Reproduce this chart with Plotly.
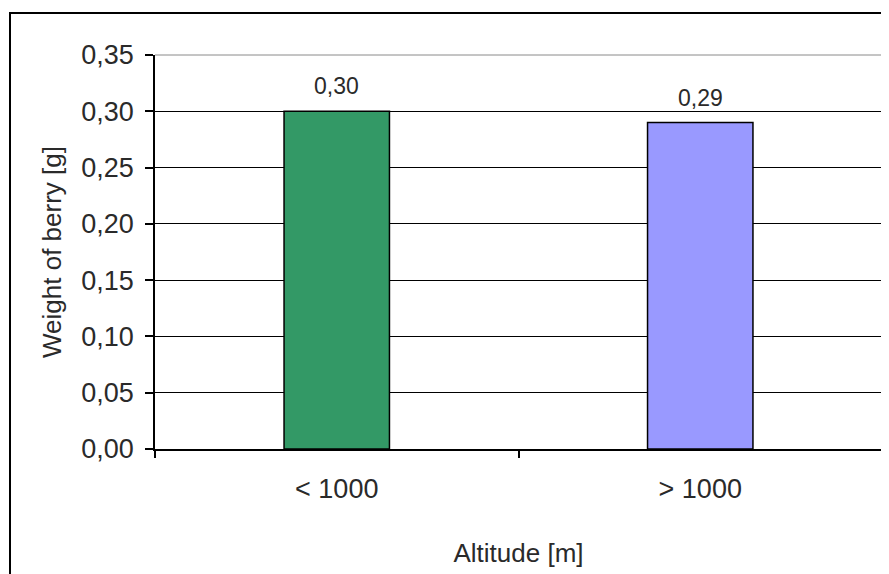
import plotly.graph_objects as go

categories = ["< 1000", "> 1000"]
weights = [0.30, 0.29]
bar_colors = ["#339966", "#9999FF"]
y_tickvals = [0.00, 0.05, 0.10, 0.15, 0.20, 0.25, 0.30, 0.35]

# page has an 8px body margin, so figure is offset by 8px
W, H = 881, 566
L, R, T, B = 147, 7, 47, 125
PW, PH = W - L - R, H - T - B

fig = go.Figure()
fig.add_trace(go.Bar(
    x=categories, y=weights,
    marker=dict(color=bar_colors, line=dict(color="#000000", width=1.5)),
    showlegend=False, hoverinfo="x+y",
))

for c, v in zip(categories, weights):
    fig.add_annotation(x=c, y=v, text=f"{v:.2f}".replace(".", ","),
                       showarrow=False, yanchor="bottom", yshift=10,
                       font=dict(size=23, color="#2a2a2a"))

# outer chart border (left/top visible)
fig.add_shape(type="rect", xref="paper", yref="paper",
              x0=(2 - L) / PW, x1=(W + 20 - L) / PW,
              y0=-(B + 20) / PH, y1=(H - 5 - B) / PH,
              line=dict(color="#000000", width=2), layer="above")
# grey plot-area top and right border
fig.add_shape(type="line", xref="paper", yref="paper", x0=0, x1=1, y0=1, y1=1,
              line=dict(color="#8a8a8a", width=1), layer="above")
fig.add_shape(type="line", xref="paper", yref="paper", x0=1, x1=1, y0=0, y1=1,
              line=dict(color="#8a8a8a", width=1), layer="above")

fig.update_layout(
    width=W, height=H,
    margin=dict(l=L, r=R, t=T, b=B, autoexpand=False),
    paper_bgcolor="white", plot_bgcolor="white",
    separators=", ",
    bargap=0.71,
    font=dict(family="Liberation Sans, Arial, sans-serif", size=26, color="#2a2a2a"),
    xaxis=dict(
        type="category", tickson="boundaries", ticks="outside", ticklen=7,
        tickcolor="#000000", tickwidth=1.5,
        showline=True, linecolor="#000000", linewidth=1.5,
        showgrid=False, ticklabelstandoff=15,
        tickfont=dict(size=27),
        title=dict(text="Altitude [m]", font=dict(size=26), standoff=41),
    ),
    yaxis=dict(
        range=[0, 0.35], tickvals=y_tickvals, tickformat=".2f",
        ticks="outside", ticklen=8, tickcolor="#000000", tickwidth=1.5,
        showline=True, linecolor="#000000", linewidth=1.5,
        showgrid=True, gridcolor="#000000", gridwidth=1,
        zeroline=False, ticklabelstandoff=6,
        tickfont=dict(size=27),
        title=dict(text="Weight of berry [g]", font=dict(size=26), standoff=12),
    ),
)

fig.write_html("out.html")
